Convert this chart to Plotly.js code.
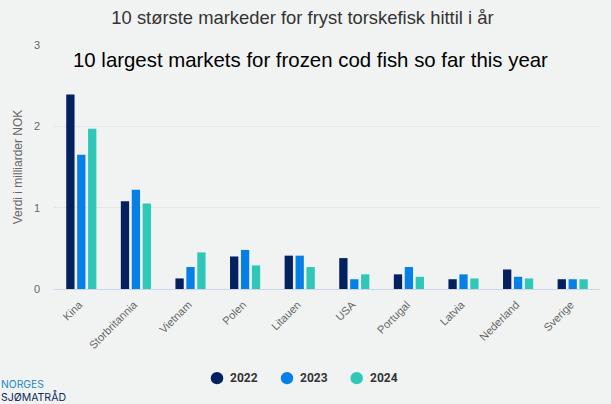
<!DOCTYPE html>
<html><head><meta charset="utf-8">
<script src="https://cdn.plot.ly/plotly-3.0.1.min.js"></script>
<style>html,body{margin:0;padding:0;background:#f1f3f2}</style></head>
<body><div id="c" style="width:611px;height:404px"></div>
<script>
const categories=["Kina","Storbritannia","Vietnam","Polen","Litauen","USA","Portugal","Latvia","Nederland","Sverige"];
const v2022=[2.39,1.08,0.13,0.4,0.41,0.38,0.18,0.12,0.24,0.12];
const v2023=[1.65,1.22,0.27,0.48,0.41,0.12,0.27,0.18,0.15,0.12];
const v2024=[1.97,1.05,0.45,0.29,0.27,0.18,0.15,0.13,0.13,0.12];
const years=["2022","2023","2024"];
const colors=["#03205f","#0680e6","#2fc8b8"];
const values=[v2022,v2023,v2024];
const bars=values.map((v,i)=>({type:"bar",x:categories,y:v,name:years[i],showlegend:false,marker:{color:colors[i]},hovertemplate:"%{x}: %{y}<extra>"+years[i]+"</extra>"}));
const F="Liberation Sans, Arial, sans-serif";
const W=611,H=404;
const keyX=[217,287,356.7], keyY=379, R=6.2;
const shapes=years.map((y,i)=>({type:"circle",xref:"paper",yref:"paper",xsizemode:"pixel",ysizemode:"pixel",xanchor:(keyX[i]-54)/546,yanchor:(289.5-keyY)/245,x0:-R,x1:R,y0:-R,y1:R,fillcolor:colors[i],line:{width:0}}));
const keyLabels=years.map((y,i)=>({text:"<b>"+y+"</b>",xref:"paper",yref:"paper",x:(keyX[i]-54)/546,y:(289.5-keyY)/245,xanchor:"left",yanchor:"middle",xshift:11,showarrow:false,font:{family:"Roboto, sans-serif",size:12,color:"#333333"}}));
Plotly.newPlot("c",bars,{
 width:W,height:H,paper_bgcolor:"#f1f3f2",plot_bgcolor:"#f1f3f2",showlegend:false,
 margin:{l:54,r:11,t:44.5,b:114.5},
 barmode:"group",bargap:0.4,bargroupgap:0.24,
 title:{text:"10 største markeder for fryst torskefisk hittil i år",font:{family:F,size:18.4,color:"#333333"},x:0.495,xanchor:"center",xref:"container",y:0.956,yanchor:"middle"},
 xaxis:{type:"category",categoryorder:"array",categoryarray:categories,range:[-0.5,9.5],tickangle:-45,ticklabelstandoff:4,ticklabelshift:-2,tickfont:{family:F,size:11,color:"#666666"},linecolor:"#ccd6eb",linewidth:1,showline:true,ticks:"",showgrid:false,automargin:false},
 yaxis:{range:[0,3],tickvals:[0,1,2,3],ticklabelstandoff:13,tickfont:{family:F,size:11,color:"#666666"},gridcolor:"#e6e6e6",gridwidth:1,zeroline:false,showline:false,ticks:"",ticklen:0,automargin:false,
  title:{text:"Verdi i milliarder NOK",font:{family:F,size:12,color:"#666666"},standoff:8}},
 shapes:shapes,
 annotations:keyLabels.concat([
  {text:"10 largest markets for frozen cod fish so far this year",xref:"paper",yref:"paper",x:(73-54)/546,y:(289.5-60)/245,xanchor:"left",yanchor:"middle",xshift:-2,showarrow:false,font:{family:F,size:20.4,color:"#000000"}},
  {text:"NORGES",xref:"paper",yref:"paper",x:-54/546,y:(289.5-385)/245,xanchor:"left",yanchor:"middle",showarrow:false,xshift:-1,font:{family:"Inter, sans-serif",size:10.3,color:"#1a86c8"}},
  {text:"SJØMATRÅD",xref:"paper",yref:"paper",x:-54/546,y:(289.5-397.5)/245,xanchor:"left",yanchor:"middle",showarrow:false,xshift:-1,font:{family:"Inter, sans-serif",size:10.5,color:"#0b2a5c"}}
 ])
},{displayModeBar:false,responsive:false});
</script></body></html>
